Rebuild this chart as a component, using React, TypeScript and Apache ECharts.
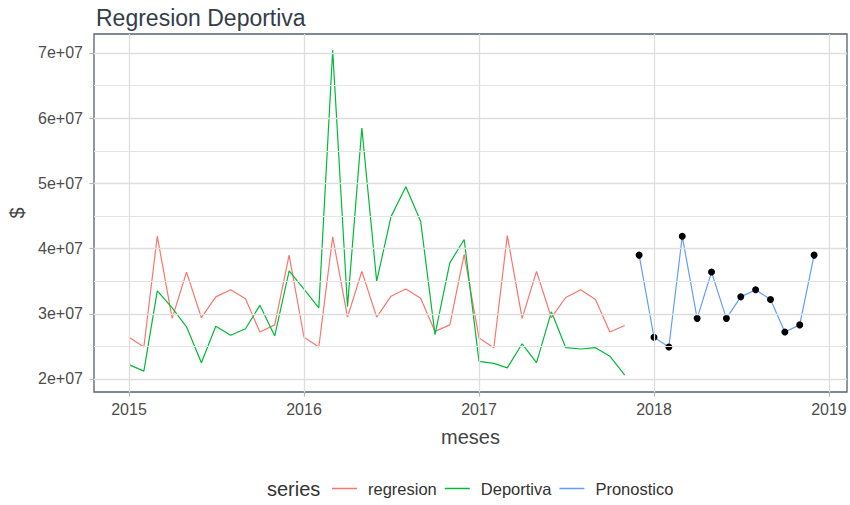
import React, { useEffect, useRef } from "react";
import * as echarts from "echarts";

// ---------- data ----------
const histMonths = [
  "2015-01", "2015-02", "2015-03", "2015-04", "2015-05", "2015-06",
  "2015-07", "2015-08", "2015-09", "2015-10", "2015-11", "2015-12",
  "2016-01", "2016-02", "2016-03", "2016-04", "2016-05", "2016-06",
  "2016-07", "2016-08", "2016-09", "2016-10", "2016-11", "2016-12",
  "2017-01", "2017-02", "2017-03", "2017-04", "2017-05", "2017-06",
  "2017-07", "2017-08", "2017-09", "2017-10", "2017-11",
];
const forecastMonths = [
  "2017-12", "2018-01", "2018-02", "2018-03", "2018-04", "2018-05", "2018-06",
  "2018-07", "2018-08", "2018-09", "2018-10", "2018-11", "2018-12",
];
const regresion = [
  26.4e6, 24.9e6, 41.9e6, 29.3e6, 36.4e6, 29.4e6, 32.6e6, 33.7e6, 32.3e6, 27.2e6, 28.3e6, 39.0e6,
  26.4e6, 24.9e6, 41.8e6, 29.5e6, 36.5e6, 29.5e6, 32.7e6, 33.8e6, 32.4e6, 27.3e6, 28.3e6, 39.1e6,
  26.3e6, 24.8e6, 42.0e6, 29.3e6, 36.5e6, 29.4e6, 32.5e6, 33.7e6, 32.2e6, 27.2e6, 28.2e6,
];
const deportiva = [
  22.2e6, 21.2e6, 33.5e6, 30.9e6, 28.0e6, 22.5e6, 28.1e6, 26.7e6, 27.7e6, 31.3e6, 26.6e6, 36.6e6,
  33.8e6, 30.9e6, 70.4e6, 31.1e6, 58.5e6, 35.0e6, 44.9e6, 49.5e6, 44.2e6, 26.8e6, 37.8e6, 41.4e6,
  22.7e6, 22.4e6, 21.7e6, 25.4e6, 22.5e6, 30.3e6, 24.8e6, 24.6e6, 24.8e6, 23.5e6, 20.6e6,
];
const pronostico = [
  39.0e6, 26.4e6, 24.9e6, 41.9e6, 29.3e6, 36.4e6, 29.3e6, 32.6e6, 33.7e6, 32.2e6, 27.2e6, 28.3e6, 39.0e6,
];
const xTicks = [2015, 2016, 2017, 2018, 2019];
const xTickLabels = ["2015", "2016", "2017", "2018", "2019"];
const yTicks = [2e7, 3e7, 4e7, 5e7, 6e7, 7e7];
const yTickLabels = ["2e+07", "3e+07", "4e+07", "5e+07", "6e+07", "7e+07"];
const yMinor = [2.5e7, 3.5e7, 4.5e7, 5.5e7, 6.5e7];
const seriesNames = ["regresion", "Deportiva", "Pronostico"];
const seriesColors = ["#F8766D", "#00BA38", "#619CFF"];

// month string -> fractional year (day based, like a Date scale)
function monthToX(m: string): number {
  const [y, mo] = m.split("-").map(Number);
  const t = Date.UTC(y, mo - 1, 1);
  const s = Date.UTC(y, 0, 1);
  const e = Date.UTC(y + 1, 0, 1);
  return y + (t - s) / (e - s);
}

const FONT = "'Liberation Sans', Arial, sans-serif";

export default function App() {
  const ref = useRef<HTMLDivElement>(null);

  useEffect(() => {
    if (!ref.current) return;
    const chart = echarts.init(ref.current, undefined, { renderer: "svg" });

    const hist = (vals: number[]) => histMonths.map((m, i) => [monthToX(m), vals[i]]);
    const fc = forecastMonths.map((m, i) => [monthToX(m), pronostico[i]]);

    const major = { color: "#dedede", width: 1.3, type: "solid" };
    const minor = { color: "#e4e4e4", width: 1.0, type: "solid" };

    const option: any = {
      animation: false,
      backgroundColor: "#ffffff",
      title: {
        text: "Regresion Deportiva",
        left: 96,
        top: 6,
        padding: 0,
        textStyle: { fontFamily: FONT, fontSize: 23, fontWeight: "normal", color: "#333d4a" },
      },
      grid: {
        left: 94,
        right: 3,
        top: 34,
        bottom: 113,
        containLabel: false,
        outerBoundsMode: "none",
        show: true,
        borderColor: "#56606c",
        borderWidth: 1.3,
        backgroundColor: "transparent",
      },
      legend: {
        data: seriesNames.map((n, i) => ({ name: n, itemStyle: { color: seriesColors[i] } })),
        left: 332,
        top: 480,
        padding: 0,
        icon: "rect",
        itemWidth: 25,
        itemHeight: 1.5,
        itemGap: 8,
        selectedMode: false,
        textStyle: { fontFamily: FONT, fontSize: 16.5, color: "#333333", padding: [0, 0, 0, 6] },
      },
      graphic: [
        {
          type: "text",
          left: 267,
          top: 479,
          style: { text: "series", fontFamily: FONT, fontSize: 20, fill: "#333333" },
        },
      ],
      xAxis: {
        type: "value",
        min: 2014.8,
        max: 2019.103,
        splitLine: { show: false },
        axisLine: { show: false },
        axisTick: {
          show: true,
          customValues: xTicks,
          length: 4.5,
          lineStyle: { color: "#b3b3b3", width: 1.2 },
        },
        axisLabel: {
          customValues: xTicks,
          formatter: (v: number) => {
            const i = xTicks.indexOf(v);
            return i >= 0 ? xTickLabels[i] : "";
          },
          margin: 9,
          fontSize: 16,
          color: "#4d4d4d",
          fontFamily: FONT,
        },
        name: "meses",
        nameLocation: "middle",
        nameGap: 35,
        nameTextStyle: { fontSize: 20, color: "#454545", fontFamily: FONT },
      },
      yAxis: {
        type: "value",
        min: 1.8006e7,
        max: 7.291e7,
        splitLine: { show: false },
        axisLine: { show: false },
        axisTick: {
          show: true,
          customValues: yTicks,
          length: 4.5,
          lineStyle: { color: "#b3b3b3", width: 1.2 },
        },
        axisLabel: {
          customValues: yTicks,
          formatter: (v: number) => {
            const i = yTicks.indexOf(v);
            return i >= 0 ? yTickLabels[i] : "";
          },
          margin: 11,
          fontSize: 16,
          color: "#4d4d4d",
          fontFamily: FONT,
        },
        name: "$",
        nameLocation: "middle",
        nameRotate: 90,
        nameGap: 58,
        nameTextStyle: { fontSize: 20, color: "#454545", fontFamily: FONT },
      },
      series: [
        {
          name: "grid",
          type: "line",
          data: [],
          z: 1,
          silent: true,
          markLine: {
            silent: true,
            symbol: ["none", "none"],
            label: { show: false },
            emphasis: { disabled: true },
            animation: false,
            data: [
              ...yTicks.map((v) => ({ yAxis: v, lineStyle: major })),
              ...yMinor.map((v) => ({ yAxis: v, lineStyle: minor })),
              ...xTicks.map((v) => ({ xAxis: v, lineStyle: major })),
            ],
          },
        },
        {
          name: "regresion",
          type: "line",
          data: hist(regresion),
          symbol: "none",
          showSymbol: false,
          color: seriesColors[0],
          lineStyle: { width: 1.2, color: seriesColors[0] },
          z: 3,
        },
        {
          name: "Deportiva",
          type: "line",
          data: hist(deportiva),
          symbol: "none",
          showSymbol: false,
          color: seriesColors[1],
          lineStyle: { width: 1.2, color: seriesColors[1] },
          z: 3,
        },
        {
          name: "Pronostico",
          type: "line",
          data: fc,
          symbol: "none",
          showSymbol: false,
          color: seriesColors[2],
          lineStyle: { width: 1.2, color: seriesColors[2] },
          z: 3,
        },
        {
          name: "Pronostico puntos",
          type: "scatter",
          data: fc,
          symbol: "circle",
          symbolSize: 7,
          itemStyle: { color: "#000000", opacity: 1 },
          z: 4,
        },
      ],
    };

    chart.setOption(option);
    return () => chart.dispose();
  }, []);

  return (
    <div
      ref={ref}
      style={{ position: "fixed", left: 0, top: 0, width: 850, height: 505, background: "#fff" }}
    />
  );
}
